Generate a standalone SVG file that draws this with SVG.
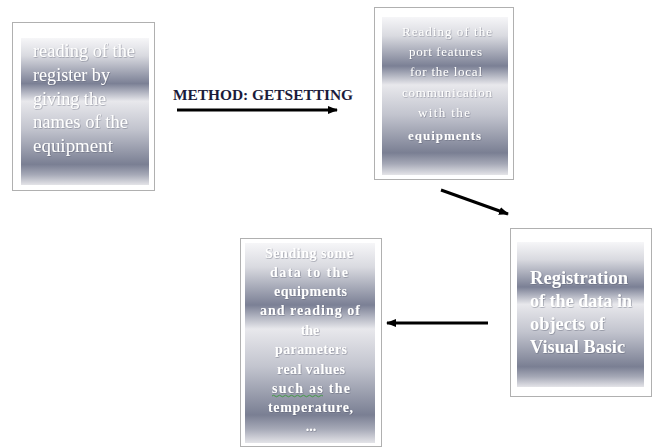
<svg xmlns="http://www.w3.org/2000/svg" width="655" height="447" viewBox="0 0 655 447">
  <defs>
    <linearGradient id="silver" x1="0" y1="0" x2="0" y2="1">
      <stop offset="0" stop-color="#f6f6f8"/>
      <stop offset="0.12" stop-color="#d9dae0"/>
      <stop offset="0.31" stop-color="#7b8095"/>
      <stop offset="0.36" stop-color="#a9acba"/>
      <stop offset="0.43" stop-color="#e8e8ec"/>
      <stop offset="0.62" stop-color="#c2c4ce"/>
      <stop offset="0.86" stop-color="#7a7f93"/>
      <stop offset="0.93" stop-color="#a6a9b7"/>
      <stop offset="1" stop-color="#e4e4e8"/>
    </linearGradient>
    <filter id="shadow" x="-10%" y="-10%" width="120%" height="130%">
      <feDropShadow dx="0.6" dy="0.6" stdDeviation="0.4" flood-color="#4a4e5e" flood-opacity="0.55"/>
    </filter>
    <marker id="head" markerWidth="10" markerHeight="8" refX="9" refY="4" orient="auto" markerUnits="userSpaceOnUse">
      <path d="M0,0 L10,4 L0,8 Z" fill="#000"/>
    </marker>
  </defs>
  <style>
    .frame { fill: #ffffff; stroke: #b0b0b0; stroke-width: 1; }
    .fill { fill: url(#silver); }
    .txt { fill: #ffffff; font-family: "Liberation Serif", "DejaVu Serif", serif; filter: url(#shadow); }
    .reg { font-size: 18px; }
    .small { font-size: 13px; }
    .b4 { font-size: 14px; font-weight: bold; }
    .bold { font-weight: bold; }
    .mid { text-anchor: middle; }
    .conn { stroke: #000; stroke-width: 3; fill: none; marker-end: url(#head); }
    .label { font-family: "Liberation Serif", "DejaVu Serif", serif; font-size: 15px; font-weight: bold; fill: #1b1b3b; }
  </style>

  <g id="connectors">
    <line class="conn" x1="177" y1="110" x2="337" y2="110"/>
    <text class="label" x="173" y="100" textLength="180" lengthAdjust="spacingAndGlyphs">METHOD: GETSETTING</text>
    <line class="conn" x1="441" y1="190" x2="508" y2="214"/>
    <line class="conn" x1="488" y1="323" x2="387" y2="323"/>
  </g>

  <g id="node1">
    <rect class="frame" x="12.5" y="22.5" width="142" height="168"/>
    <rect class="fill" x="21" y="38" width="128" height="147"/>
    <text class="txt reg" x="33" y="57" textLength="102" lengthAdjust="spacingAndGlyphs">reading of the</text>
    <text class="txt reg" x="33" y="81" textLength="77" lengthAdjust="spacingAndGlyphs">register by</text>
    <text class="txt reg" x="33" y="105" textLength="73" lengthAdjust="spacingAndGlyphs">giving the</text>
    <text class="txt reg" x="33" y="128" textLength="95" lengthAdjust="spacingAndGlyphs">names of the</text>
    <text class="txt reg" x="33" y="152" textLength="80" lengthAdjust="spacingAndGlyphs">equipment</text>
  </g>

  <g id="node2">
    <rect class="frame" x="374.5" y="7.5" width="139" height="172"/>
    <rect class="fill" x="382" y="17" width="126" height="158"/>
    <text class="txt small" x="402" y="36" textLength="90" lengthAdjust="spacing">Reading of the</text>
    <text class="txt small" x="409" y="56" textLength="73" lengthAdjust="spacing">port features</text>
    <text class="txt small" x="410" y="76" textLength="72" lengthAdjust="spacing">for the local</text>
    <text class="txt small" x="402" y="97" textLength="90" lengthAdjust="spacing">communication</text>
    <text class="txt small" x="418" y="117" textLength="52" lengthAdjust="spacing">with the</text>
    <text class="txt small bold" x="408" y="140" textLength="73" lengthAdjust="spacing">equipments</text>
  </g>

  <g id="node3">
    <rect class="frame" x="510.5" y="228.5" width="141" height="168"/>
    <rect class="fill" x="517" y="242" width="127" height="145"/>
    <text class="txt reg bold" x="530" y="284" textLength="98" lengthAdjust="spacingAndGlyphs">Registration</text>
    <text class="txt reg bold" x="530" y="307" textLength="102" lengthAdjust="spacingAndGlyphs">of the data in</text>
    <text class="txt reg bold" x="530" y="330" textLength="75" lengthAdjust="spacingAndGlyphs">objects of</text>
    <text class="txt reg bold" x="530" y="353" textLength="95" lengthAdjust="spacingAndGlyphs">Visual Basic</text>
  </g>

  <g id="node4">
    <rect class="frame" x="240.5" y="238.5" width="141" height="208"/>
    <rect class="fill" x="245" y="243" width="130" height="200"/>
    <text class="txt b4" x="265" y="258" textLength="88" lengthAdjust="spacing">Sending some</text>
    <text class="txt b4" x="270" y="277" textLength="78" lengthAdjust="spacing">data to the</text>
    <text class="txt b4" x="274" y="296" textLength="73" lengthAdjust="spacing">equipments</text>
    <text class="txt b4" x="260" y="315" textLength="100" lengthAdjust="spacing">and reading of</text>
    <text class="txt b4 mid" x="310" y="335">the</text>
    <text class="txt b4" x="275" y="354" textLength="72" lengthAdjust="spacing">parameters</text>
    <text class="txt b4" x="277" y="374" textLength="68" lengthAdjust="spacing">real values</text>
    <text class="txt b4" x="272" y="393" textLength="78" lengthAdjust="spacing">such as the</text>
    <text class="txt b4" x="268" y="412" textLength="85" lengthAdjust="spacing">temperature,</text>
    <text class="txt b4 mid" x="311" y="431">...</text>
    <path d="M272,396 q1.5,-1.5 3,0 t3,0 t3,0 t3,0 t3,0 t3,0 t3,0 t3,0 t3,0 t3,0 t3,0 t3,0 t3,0 t3,0 t3,0 t3,0 t3,0" fill="none" stroke="#3a9a3a" stroke-width="0.9"/>
  </g>
</svg>
